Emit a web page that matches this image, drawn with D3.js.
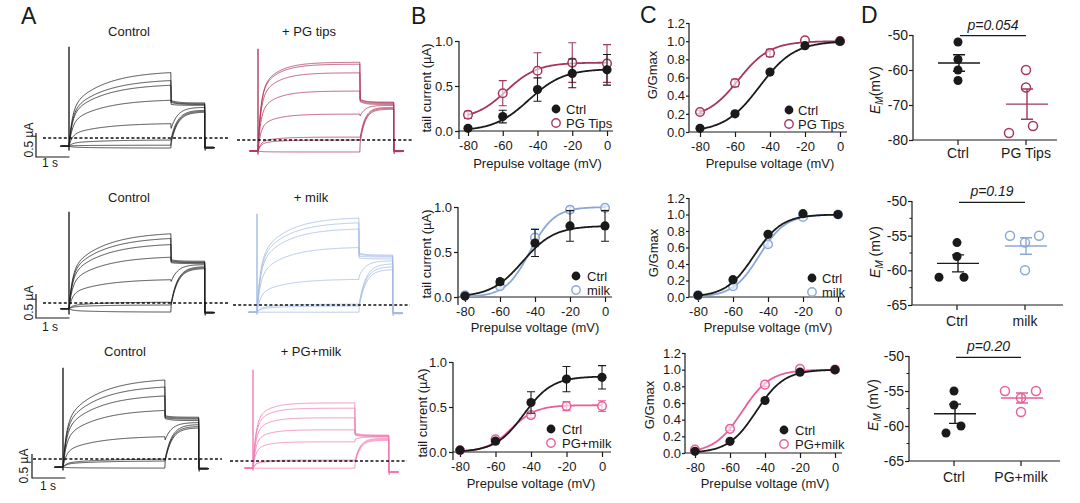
<!DOCTYPE html>
<html><head><meta charset="utf-8">
<script src="https://cdn.jsdelivr.net/npm/d3@7"></script>
<style>body{margin:0;background:#fff;} svg text{font-family:Arial,"Liberation Sans",sans-serif;}</style>
</head><body><svg id="c" width="1080" height="503"></svg>
<script>
// ================= DATA =================
const voltages = [-80, -60, -40, -20, 0];
const ticksB = [0, 0.5, 1.0];
const ticksC = [0, 0.2, 0.4, 0.6, 0.8, 1.0, 1.2];
const ticksD1 = [-80, -70, -60, -50];
const ticksD23 = [-65, -60, -55, -50];
const minorD23 = [-62.5, -57.5, -52.5];

// Panel B: tail current (uA), mean and SEM
const bCtrl1 = [0.03, 0.16, 0.46, 0.64, 0.68];
const bCtrl1Err = [0.02, 0.07, 0.13, 0.16, 0.17];
const bPGTips = [0.18, 0.42, 0.67, 0.76, 0.75];
const bPGTipsErr = [0.04, 0.14, 0.20, 0.22, 0.21];
const bCtrl2 = [0.01, 0.17, 0.60, 0.79, 0.79];
const bCtrl2Err = [0.01, 0.03, 0.15, 0.17, 0.17];
const bMilk = [0.02, 0.12, 0.66, 0.97, 0.99];
const bMilkErr = [0.01, 0.02, 0.10, 0.03, 0.02];
const bCtrl3 = [0.02, 0.12, 0.55, 0.81, 0.83];
const bCtrl3Err = [0.01, 0.02, 0.12, 0.14, 0.13];
const bPGMilk = [0.02, 0.14, 0.41, 0.51, 0.51];
const bPGMilkErr = [0.01, 0.02, 0.03, 0.05, 0.06];
// Boltzmann fits [bottom, top, V1/2, slope]
const fitBCtrl1 = [0, 0.69, -45, 10];
const fitBPGTips = [0.13, 0.76, -58, 9];
const fitBCtrl2 = [0, 0.79, -47, 9];
const fitBMilk = [0, 1.0, -43, 7];
const fitBCtrl3 = [0, 0.84, -44, 8];
const fitBPGMilk = [0, 0.52, -51, 7];

// Panel C: G/Gmax
const cCtrl1 = [0.04, 0.20, 0.66, 0.95, 1.00];
const cCtrl1Err = [0.01, 0.02, 0.02, 0.01, 0.0];
const cPGTips = [0.22, 0.54, 0.87, 1.01, 1.00];
const cPGTipsErr = [0.02, 0.04, 0.04, 0.01, 0.0];
const cCtrl2 = [0.02, 0.21, 0.76, 1.01, 1.00];
const cCtrl2Err = [0.01, 0.02, 0.02, 0.01, 0.0];
const cMilk = [0.02, 0.13, 0.64, 0.97, 1.00];
const cMilkErr = [0.01, 0.02, 0.03, 0.01, 0.0];
const cCtrl3 = [0.02, 0.14, 0.63, 0.97, 1.00];
const cCtrl3Err = [0.01, 0.01, 0.02, 0.01, 0.0];
const cPGMilk = [0.04, 0.29, 0.82, 1.01, 1.00];
const cPGMilkErr = [0.01, 0.02, 0.02, 0.01, 0.0];
const fitCCtrl1 = [0, 1, -46, 10];
const fitCPGTips = [0.15, 1, -58, 9];
const fitCCtrl2 = [0, 1, -48, 8];
const fitCMilk = [0, 1, -45, 7.5];
const fitCCtrl3 = [0, 1, -45, 8];
const fitCPGMilk = [0, 1, -53, 8];

// Panel D: resting membrane potential E_M (mV)
const dCtrl1 = [-52, -57, -60, -63];
const dPGTips = [-60, -65, -78, -76];
const dCtrl2 = [-56, -58, -61, -61];
const dMilk = [-55, -55, -56, -60];
const dCtrl3 = [-55, -57, -60, -61];
const dPGMilk = [-55, -55, -56, -58];
const pValues = ["p=0.054", "p=0.19", "p=0.20"];

// Panel A: TEVC sweeps (uA relative to zero-current line)
const protocolSec = [0.25, 3.05, 1.0, 0.3]; // pre, prepulse, tail, post
const spikeTop = 1.9;
const aCtrl1Steady = [1.40, 1.23, 1.13, 0.81, 0.31, -0.04, -0.15, -0.21];
const aCtrl1TailStart = [0.78, 0.76, 0.74, 0.70, 0.20, 0.0, -0.06, -0.10];
const aCtrl1TailEnd = [0.73, 0.71, 0.70, 0.68, 0.64, 0.58, 0.56, 0.54];
const aPG1Steady = [1.62, 1.58, 1.40, 1.02, 0.54, 0.06, 0.0, -0.25];
const aPG1TailStart = [0.85, 0.84, 0.82, 0.80, 0.50, 0.05, 0.0, -0.05];
const aPG1TailEnd = [0.79, 0.78, 0.76, 0.74, 0.72, 0.68, 0.66, 0.64];
const aCtrl2Steady = [1.48, 1.38, 1.25, 0.98, 0.50, 0.02, -0.04, -0.19];
const aCtrl2TailStart = [0.90, 0.88, 0.86, 0.84, 0.45, 0.0, -0.02, -0.05];
const aCtrl2TailEnd = [0.87, 0.85, 0.84, 0.82, 0.80, 0.76, 0.74, 0.72];
const aMilkSteady = [1.83, 1.73, 1.60, 1.21, 0.54, 0.02, -0.02, -0.15];
const aMilkTailStart = [1.08, 1.06, 1.02, 0.98, 0.60, 0.02, 0.0, -0.05];
const aMilkTailEnd = [1.04, 1.02, 1.00, 0.96, 0.92, 0.86, 0.80, 0.74];
const aCtrl3Steady = [1.69, 1.54, 1.35, 1.04, 0.48, 0.0, -0.04, -0.19];
const aCtrl3TailStart = [0.90, 0.88, 0.86, 0.84, 0.40, 0.0, -0.02, -0.05];
const aCtrl3TailEnd = [0.87, 0.85, 0.83, 0.80, 0.76, 0.72, 0.68, 0.65];
const aPGMilkSteady = [1.21, 1.10, 0.90, 0.65, 0.40, 0.02, 0.0, -0.15];
const aPGMilkTailStart = [0.58, 0.57, 0.55, 0.54, 0.45, 0.0, 0.0, -0.05];
const aPGMilkTailEnd = [0.54, 0.53, 0.52, 0.51, 0.50, 0.47, 0.45, 0.43];
// kinetics [fast fraction, tau fast, tau slow, tau tail] (s)
const kinCtrl = [0.5, 0.1, 1.0, 0.2];
const kinPG = [0.65, 0.08, 0.5, 0.15];
const kinMilk = [0.55, 0.1, 0.8, 0.2];
const kinPGMilk = [0.7, 0.08, 0.4, 0.15];

// ================= DRAWING =================
const svg = d3.select("#c");
const INK = "#1a1a1a";
const colPG = "#a3375c", colMilk = "#8aa8d8", colPGMilk = "#e6609c";
const trPG = "#b03a5e", trMilk = "#a3bbe3", trPGMilk = "#f07bb2";
const fmtNum = d => (d < 0 ? "-" : "") + Math.abs(d).toString();
const fmt1 = d => d3.format(".1f")(d);

function letter(t, x, y) {
  svg.append("text").attr("x", x).attr("y", y).attr("font-size", 23).attr("fill", INK).text(t);
}
letter("A", 21, 24); letter("B", 411, 24); letter("C", 640, 23); letter("D", 861, 23);

// ---------- Panel A ----------
function drawTraces(c) {
  const g = svg.append("g");
  const pxs = 33.5;
  const [pre, step, tail, post] = protocolSec;
  const x = d3.scaleLinear().domain([0, 1]).range([c.x0, c.x0 + pxs]);
  const y = d3.scaleLinear().domain([0, 1]).range([c.base, c.base - 48]);
  const [A, t1, t2, tt] = c.kin;
  const line = d3.line().x(d => x(d[0])).y(d => y(d[1]));
  c.steady.forEach((Iss, i) => {
    const pts = [[-pre, c.hold], [0, c.hold]];
    d3.range(0, step + 1e-9, 0.02).forEach(t => {
      pts.push([t, Iss + (c.hold - Iss) * (A * Math.exp(-t / t1) + (1 - A) * Math.exp(-t / t2))]);
    });
    pts.push([step, c.tailStart[i]]);
    d3.range(0, tail + 1e-9, 0.02).forEach(t => {
      pts.push([step + t, c.tailEnd[i] + (c.tailStart[i] - c.tailEnd[i]) * Math.exp(-t / tt)]);
    });
    pts.push([step + tail, c.after]);
    pts.push([step + tail + post, c.after]);
    g.append("path").attr("d", line(pts)).attr("fill", "none").attr("stroke", c.color).attr("stroke-width", 0.8);
  });
  // capacitive spike at onset
  g.append("line").attr("x1", x(0)).attr("x2", x(0)).attr("y1", y(spikeTop)).attr("y2", y(d3.min(c.steady) - 0.05))
    .attr("stroke", c.color).attr("stroke-width", 1.4);
  // post-pulse transient
  g.append("line").attr("x1", x(step + tail) + 0.5).attr("x2", x(step + tail) + 0.5)
    .attr("y1", y(0)).attr("y2", y(c.after - 0.06)).attr("stroke", c.color).attr("stroke-width", 1.2);
  g.append("line").attr("x1", x(step + tail)).attr("x2", x(step + tail + post * 0.9))
    .attr("y1", y(c.after)).attr("y2", y(c.after)).attr("stroke", c.color).attr("stroke-width", 2.2);
  // dashed zero line
  g.append("line").attr("x1", c.dash[0]).attr("x2", c.dash[1]).attr("y1", y(0)).attr("y2", y(0))
    .attr("stroke", "#111").attr("stroke-width", 1.3).attr("stroke-dasharray", "3,2.2");
  g.append("text").attr("x", c.titleX).attr("y", c.titleY).attr("text-anchor", "middle")
    .attr("font-size", 13).attr("fill", INK).text(c.title);
  if (c.bar) {
    const [bx, by, lx, ly, sx, sy] = c.bar;
    const h = y(0) - y(0.5), w = x(1) - x(0);
    g.append("path").attr("d", `M${bx},${by - h}V${by}H${bx + w}`).attr("fill", "none").attr("stroke", INK).attr("stroke-width", 1.2);
    g.append("text").attr("transform", `translate(${lx},${ly}) rotate(-90)`).attr("text-anchor", "middle")
      .attr("font-size", 12).attr("fill", INK).text("0.5 µA");
    g.append("text").attr("x", sx).attr("y", sy).attr("text-anchor", "middle").attr("font-size", 12).attr("fill", INK).text("1 s");
  }
}

drawTraces({x0: 69, base: 138, hold: -0.17, after: -0.2, steady: aCtrl1Steady, tailStart: aCtrl1TailStart, tailEnd: aCtrl1TailEnd,
  kin: kinCtrl, color: "#222", dash: [43, 228], title: "Control", titleX: 129, titleY: 36, bar: [36, 157, 33, 140, 50, 167]});
drawTraces({x0: 258, base: 140, hold: -0.23, after: -0.23, steady: aPG1Steady, tailStart: aPG1TailStart, tailEnd: aPG1TailEnd,
  kin: kinPG, color: trPG, dash: [237, 413], title: "+ PG tips", titleX: 309, titleY: 36});
drawTraces({x0: 69, base: 303, hold: -0.12, after: -0.2, steady: aCtrl2Steady, tailStart: aCtrl2TailStart, tailEnd: aCtrl2TailEnd,
  kin: kinCtrl, color: "#222", dash: [43, 228], title: "Control", titleX: 129, titleY: 202, bar: [36, 318, 33, 303, 50, 331]});
drawTraces({x0: 257, base: 305, hold: -0.15, after: -0.17, steady: aMilkSteady, tailStart: aMilkTailStart, tailEnd: aMilkTailEnd,
  kin: kinMilk, color: trMilk, dash: [233, 410], title: "+ milk", titleX: 311, titleY: 202});
drawTraces({x0: 63, base: 459, hold: -0.17, after: -0.2, steady: aCtrl3Steady, tailStart: aCtrl3TailStart, tailEnd: aCtrl3TailEnd,
  kin: kinCtrl, color: "#222", dash: [33, 222], title: "Control", titleX: 125, titleY: 356, bar: [32, 478, 28, 466, 48, 490]});
drawTraces({x0: 253, base: 461, hold: -0.15, after: -0.23, steady: aPGMilkSteady, tailStart: aPGMilkTailStart, tailEnd: aPGMilkTailEnd,
  kin: kinPGMilk, color: trPGMilk, dash: [230, 407], title: "+ PG+milk", titleX: 311, titleY: 356});

// ---------- Panels B & C ----------
const boltz = (v, p) => p[0] + (p[1] - p[0]) / (1 + Math.exp((p[2] - v) / p[3]));

function drawIV(c) {
  const g = svg.append("g");
  const x = d3.scaleLinear().domain([-80, 0]).range([c.x80, c.x0]);
  const y = d3.scaleLinear().domain([0, c.yMax]).range([c.y0, c.yTopPx]);
  g.append("line").attr("x1", c.ax).attr("x2", c.ax).attr("y1", y(c.yMax)).attr("y2", c.y0 + c.yExt).attr("stroke", INK).attr("stroke-width", 1.2);
  g.append("line").attr("x1", c.ax).attr("x2", c.xEnd).attr("y1", c.y0).attr("y2", c.y0).attr("stroke", INK).attr("stroke-width", 1.2);
  const ya = g.append("g").attr("transform", `translate(${c.ax},0)`)
    .call(d3.axisLeft(y).tickValues(c.yTicks).tickFormat(fmt1).tickSize(c.tk).tickPadding(c.tp));
  const xa = g.append("g").attr("transform", `translate(0,${c.y0})`)
    .call(d3.axisBottom(x).tickValues(voltages).tickFormat(fmtNum).tickSize(5).tickPadding(5));
  [ya, xa].forEach(a => {
    a.select(".domain").remove();
    a.selectAll("line").attr("stroke", INK).attr("stroke-width", 1.2);
    a.selectAll("text").attr("font-size", 13).attr("fill", INK).attr("font-family", "Arial, 'Liberation Sans', sans-serif");
  });
  g.append("text").attr("x", (c.x80 + c.x0) / 2).attr("y", c.xTitleY).attr("text-anchor", "middle").attr("font-size", 13).attr("fill", INK).text("Prepulse voltage (mV)");
  g.append("text").attr("transform", `translate(${c.yTitleX},${c.yTitleY}) rotate(-90)`).attr("text-anchor", "middle").attr("font-size", 13).attr("fill", INK).text(c.yTitle);
  const vs = d3.range(-80, 0.001, 0.5);
  c.series.slice().reverse().forEach(s => {
    g.append("path").attr("d", d3.line().x(v => x(v)).y(v => y(boltz(v, s.fit)))(vs))
      .attr("fill", "none").attr("stroke", s.color).attr("stroke-width", 1.8);
    s.vals.forEach((v, i) => {
      const e = s.err[i];
      if (e > 0.015) {
        const xx = x(voltages[i]);
        g.append("path").attr("d", `M${xx},${y(v - e)}V${y(v + e)}M${xx - 4},${y(v - e)}H${xx + 4}M${xx - 4},${y(v + e)}H${xx + 4}`)
          .attr("stroke", s.color).attr("stroke-width", 1.1).attr("fill", "none");
      }
    });
    s.vals.forEach((v, i) => {
      g.append("circle").attr("cx", x(voltages[i])).attr("cy", y(v)).attr("r", s.filled ? 4.6 : 4.3)
        .attr("fill", s.filled ? INK : "#fff").attr("fill-opacity", s.filled ? 1 : 0.6).attr("stroke", s.color).attr("stroke-width", s.filled ? 0 : 1.5);
    });
  });
  c.series.forEach((s, i) => {
    const ly = c.leg[1] + i * c.leg[3];
    g.append("circle").attr("cx", c.leg[0]).attr("cy", ly).attr("r", s.filled ? 4.4 : 4.2)
      .attr("fill", s.filled ? INK : "#fff").attr("stroke", s.color).attr("stroke-width", s.filled ? 0 : 1.4);
    g.append("text").attr("x", c.leg[2]).attr("y", ly + 5).attr("font-size", 13).attr("fill", INK).text(s.name);
  });
}

const tailLabel = "tail current (µA)";
drawIV({x80: 468, x0: 607, y0: 131, yTopPx: 41, yMax: 1.0, ax: 459, xEnd: 613, yExt: 8, yTicks: ticksB, tk: 4, tp: 2,
  xTitleY: 168, yTitle: tailLabel, yTitleX: 431, yTitleY: 88, leg: [556, 109, 566, 14],
  series: [{name: "Ctrl", vals: bCtrl1, err: bCtrl1Err, fit: fitBCtrl1, color: INK, filled: true},
           {name: "PG Tips", vals: bPGTips, err: bPGTipsErr, fit: fitBPGTips, color: colPG, filled: false}]});
drawIV({x80: 465, x0: 605, y0: 297, yTopPx: 207, yMax: 1.0, ax: 458, xEnd: 612, yExt: 8, yTicks: ticksB, tk: 4, tp: 2,
  xTitleY: 332, yTitle: tailLabel, yTitleX: 431, yTitleY: 254, leg: [576, 276, 587, 14],
  series: [{name: "Ctrl", vals: bCtrl2, err: bCtrl2Err, fit: fitBCtrl2, color: INK, filled: true},
           {name: "milk", vals: bMilk, err: bMilkErr, fit: fitBMilk, color: colMilk, filled: false}]});
drawIV({x80: 460, x0: 602, y0: 452, yTopPx: 362, yMax: 1.0, ax: 453, xEnd: 611, yExt: 8, yTicks: ticksB, tk: 4, tp: 2,
  xTitleY: 488, yTitle: tailLabel, yTitleX: 427, yTitleY: 413, leg: [551, 429, 562, 14],
  series: [{name: "Ctrl", vals: bCtrl3, err: bCtrl3Err, fit: fitBCtrl3, color: INK, filled: true},
           {name: "PG+milk", vals: bPGMilk, err: bPGMilkErr, fit: fitBPGMilk, color: colPGMilk, filled: false}]});

drawIV({x80: 700, x0: 840, y0: 132, yTopPx: 23, yMax: 1.2, ax: 689, xEnd: 847, yExt: 0, yTicks: ticksC, tk: 3, tp: 1,
  xTitleY: 168, yTitle: "G/Gmax", yTitleX: 657, yTitleY: 75, leg: [789, 110, 798, 14],
  series: [{name: "Ctrl", vals: cCtrl1, err: cCtrl1Err, fit: fitCCtrl1, color: INK, filled: true},
           {name: "PG Tips", vals: cPGTips, err: cPGTipsErr, fit: fitCPGTips, color: colPG, filled: false}]});
drawIV({x80: 698, x0: 838, y0: 297, yTopPx: 198, yMax: 1.2, ax: 689, xEnd: 845, yExt: 0, yTicks: ticksC, tk: 3, tp: 1,
  xTitleY: 332, yTitle: "G/Gmax", yTitleX: 658, yTitleY: 253, leg: [812, 278, 822, 14],
  series: [{name: "Ctrl", vals: cCtrl2, err: cCtrl2Err, fit: fitCCtrl2, color: INK, filled: true},
           {name: "milk", vals: cMilk, err: cMilkErr, fit: fitCMilk, color: colMilk, filled: false}]});
drawIV({x80: 695, x0: 835, y0: 453, yTopPx: 353, yMax: 1.2, ax: 685, xEnd: 842, yExt: 0, yTicks: ticksC, tk: 3, tp: 1,
  xTitleY: 488, yTitle: "G/Gmax", yTitleX: 654, yTitleY: 405, leg: [784, 430, 795, 14],
  series: [{name: "Ctrl", vals: cCtrl3, err: cCtrl3Err, fit: fitCCtrl3, color: INK, filled: true},
           {name: "PG+milk", vals: cPGMilk, err: cPGMilkErr, fit: fitCPGMilk, color: colPGMilk, filled: false}]});

// ---------- Panel D ----------
function drawScatter(c) {
  const g = svg.append("g");
  const y = d3.scaleLinear().domain([c.yMin, -50]).range([c.yBot, c.yTopPx]);
  const x = d3.scalePoint().domain([0, 1]).range(c.cats);
  g.append("line").attr("x1", c.ax).attr("x2", c.ax).attr("y1", y(-50)).attr("y2", c.yBot).attr("stroke", INK).attr("stroke-width", 1.2);
  g.append("line").attr("x1", c.ax).attr("x2", c.xEnd).attr("y1", c.yBot).attr("y2", c.yBot).attr("stroke", INK).attr("stroke-width", 1.2);
  const ya = g.append("g").attr("transform", `translate(${c.ax},0)`)
    .call(d3.axisLeft(y).tickValues(c.ticks).tickFormat(fmtNum).tickSize(4).tickPadding(1));
  ya.select(".domain").remove();
  ya.selectAll("line").attr("stroke", INK).attr("stroke-width", 1.2);
  ya.selectAll("text").attr("font-size", 14).attr("fill", INK).attr("font-family", "Arial, 'Liberation Sans', sans-serif");
  (c.minor || []).forEach(m => g.append("line").attr("x1", c.ax - 2.5).attr("x2", c.ax).attr("y1", y(m)).attr("y2", y(m)).attr("stroke", INK).attr("stroke-width", 1));
  c.groups.forEach((s, gi) => {
    const cx = x(gi);
    g.append("line").attr("x1", cx).attr("x2", cx).attr("y1", c.yBot).attr("y2", c.yBot + 5).attr("stroke", INK).attr("stroke-width", 1.2);
    g.append("text").attr("x", cx).attr("y", c.labelY).attr("text-anchor", "middle").attr("font-size", 14).attr("fill", INK).text(s.name);
    const m = d3.mean(s.vals), sem = d3.deviation(s.vals) / Math.sqrt(s.vals.length);
    const mx = cx + 1;
    g.append("path").attr("d", `M${mx - 21},${y(m)}H${mx + 21}M${mx},${y(m + sem)}V${y(m - sem)}M${mx - 6},${y(m + sem)}H${mx + 6}M${mx - 6},${y(m - sem)}H${mx + 6}`)
      .attr("stroke", s.color).attr("stroke-width", 1.4).attr("fill", "none");
    s.vals.forEach((v, i) => {
      g.append("circle").attr("cx", cx + s.jit[i]).attr("cy", y(v)).attr("r", 4.5)
        .attr("fill", s.filled ? INK : "none").attr("stroke", s.filled ? "none" : s.color).attr("stroke-width", 1.5);
    });
  });
  g.append("line").attr("x1", x(0) + 2).attr("x2", x(1)).attr("y1", y(-50.2)).attr("y2", y(-50.2)).attr("stroke", INK).attr("stroke-width", 1.2);
  g.append("text").attr("x", (x(0) + x(1)) / 2 + 1).attr("y", y(-50.2) - 6).attr("text-anchor", "middle").attr("font-size", 14)
    .attr("font-style", "italic").attr("fill", INK).text(c.p);
  const t = g.append("text").attr("transform", `translate(${c.yTitleX},${c.yTitleY}) rotate(-90)`).attr("text-anchor", "middle").attr("font-size", 14).attr("fill", INK);
  t.append("tspan").attr("font-style", "italic").text("E");
  t.append("tspan").attr("font-style", "italic").attr("font-size", 10).attr("dy", 3).text("M");
  t.append("tspan").attr("dy", -3).text(c.gap + "(mV)");
}

drawScatter({yMin: -80, yBot: 140, yTopPx: 35, ax: 913, xEnd: 1057, cats: [958, 1026], ticks: ticksD1, labelY: 158,
  p: pValues[0], yTitleX: 880, yTitleY: 90, gap: "",
  groups: [{name: "Ctrl", vals: dCtrl1, jit: [0, 0, 0, 0], color: INK, filled: true},
           {name: "PG Tips", vals: dPGTips, jit: [0, 0, -17, 7], color: colPG, filled: false}]});
drawScatter({yMin: -65, yBot: 305, yTopPx: 201, ax: 912, xEnd: 1063, cats: [957, 1025], ticks: ticksD23, minor: minorD23, labelY: 326,
  p: pValues[1], yTitleX: 880, yTitleY: 252, gap: " ",
  groups: [{name: "Ctrl", vals: dCtrl2, jit: [0, 0, -18, 7], color: INK, filled: true},
           {name: "milk", vals: dMilk, jit: [-15, 14, 0, 0], color: colMilk, filled: false}]});
drawScatter({yMin: -65, yBot: 461, yTopPx: 356, ax: 909, xEnd: 1060, cats: [954, 1021], ticks: ticksD23, minor: minorD23, labelY: 482,
  p: pValues[2], yTitleX: 878, yTitleY: 405, gap: " ",
  groups: [{name: "Ctrl", vals: dCtrl3, jit: [0, 0, 7, -8], color: INK, filled: true},
           {name: "PG+milk", vals: dPGMilk, jit: [-16, 15, 0, 0], color: colPGMilk, filled: false}]});
</script></body></html>
